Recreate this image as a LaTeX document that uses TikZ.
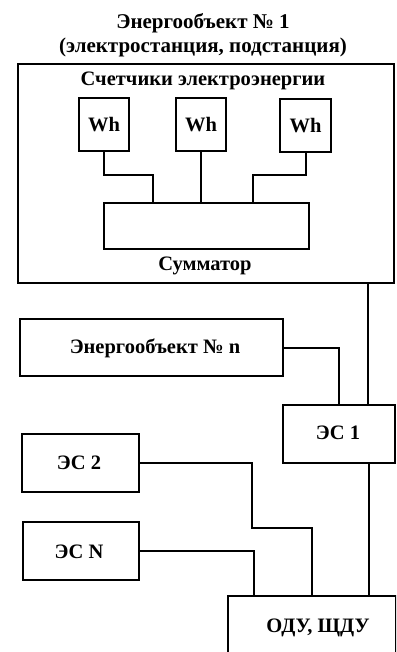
\documentclass[tikz,border=0pt]{standalone}
\usepackage{fontspec}
\setmainfont{Liberation Serif}
\begin{document}
\begin{tikzpicture}[x=1pt,y=-1pt,
  box/.style={draw,line width=2.3pt,inner sep=0pt,anchor=north west},
  lbl/.style={font=\bfseries\fontsize{20.5}{23}\selectfont,inner sep=0pt},
  wire/.style={line width=2.1pt}]
\useasboundingbox (0,0) rectangle (396,652);
\clip (0,0) rectangle (396,652);
% title
\node[lbl,align=center,font=\bfseries\fontsize{21}{24}\selectfont] (title) at (203,35) {Энергообъект № 1\\(электростанция, подстанция)};
% outer box
\node[box,minimum width=376pt,minimum height=219pt] (outer) at (17,63) {};
\node[lbl] (cnt) at (203,81) {Счетчики электроэнергии};
\node[box,minimum width=50pt,minimum height=53pt] (wh1) at (78,97) {};
\node[lbl] at (wh1.center) {Wh};
\node[box,minimum width=50pt,minimum height=53pt] (wh2) at (175,97) {};
\node[lbl] at (wh2.center) {Wh};
\node[box,minimum width=51pt,minimum height=53pt] (wh3) at (279,98) {};
\node[lbl] at (wh3.center) {Wh};
\node[box,minimum width=205pt,minimum height=46pt] (summ) at (103,202) {};
\node[lbl] (sumlbl) at (205,266) {Сумматор};
% other objects
\node[box,minimum width=263pt,minimum height=57pt] (en) at (19,318) {};
\node[lbl] at (155,348) {Энергообъект № n};
\node[box,minimum width=112pt,minimum height=58pt] (es1) at (282,404) {};
\node[lbl] at (338,433) {ЭС 1};
\node[box,minimum width=117pt,minimum height=58pt] (es2) at (21,433) {};
\node[lbl] at (79,463) {ЭС 2};
\node[box,minimum width=116pt,minimum height=58pt] (esn) at (22,521) {};
\node[lbl] at (79,552) {ЭС N};
\node[box,minimum width=168pt,minimum height=70pt] (odu) at (227,595) {};
\node[lbl] at (318,628) {ОДУ, ЩДУ};
% junction coordinates
\coordinate (j1) at (153,175);
\coordinate (j3) at (253,175);
\coordinate (xa) at (368,0);
\coordinate (xb) at (339,0);
\coordinate (b1) at (252,528);
\coordinate (xc) at (312,0);
\coordinate (xd) at (254,0);
\coordinate (xe) at (369,0);
% connectors
\draw[wire] (wh1.south) |- (j1) -- (j1 |- summ.north);
\draw[wire] (wh2.south) -- (wh2.south |- summ.north);
\draw[wire] (wh3.south) |- (j3) -- (j3 |- summ.north);
\draw[wire] (outer.south -| xa) -- (es1.north -| xa);
\draw[wire] (en.east) -| (es1.north -| xb);
\draw[wire] (es2.east) -| (b1) -| (odu.north -| xc);
\draw[wire] (esn.east) -| (odu.north -| xd);
\draw[wire] (es1.south -| xe) -- (odu.north -| xe);
\end{tikzpicture}
\end{document}
